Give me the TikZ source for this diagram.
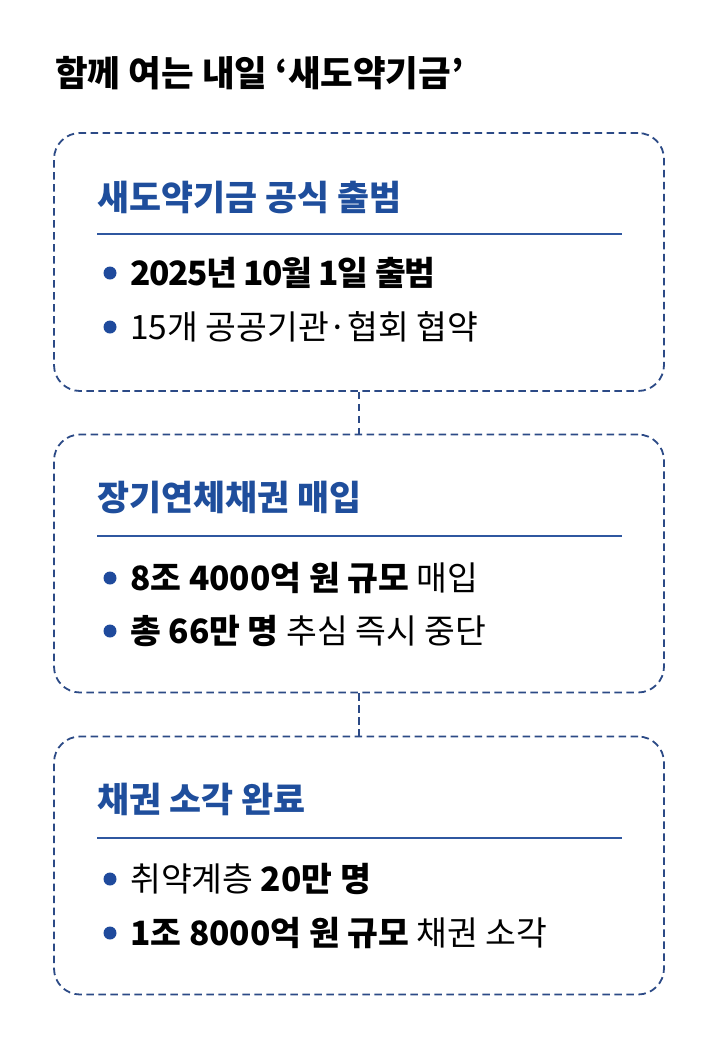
\documentclass[tikz,border=0pt]{standalone}
\usepackage{fontspec}
\setmainfont{Noto Sans CJK KR}
\definecolor{boxline}{HTML}{2C4A86}
\definecolor{titleblue}{HTML}{1F4E9C}
\definecolor{dotblue}{HTML}{1F4A9C}
\definecolor{rulecol}{HTML}{2F57A0}
\tikzset{
  stepbox/.style={draw=boxline, line width=1.8pt, dash pattern=on 7.5pt off 4.5pt,
    rounded corners=26pt, minimum width=610pt, minimum height=258pt, inner sep=0pt},
  conn/.style={draw=boxline, line width=1.8pt, dash pattern=on 7.5pt off 4.5pt},
  boxtitle/.style={anchor=base west, inner sep=0pt, text=titleblue, font=\fontsize{34.8}{40}\selectfont\bfseries},
  bullettext/.style={anchor=base west, inner sep=0pt, text=black, font=\fontsize{33.5}{38}\selectfont},
  dot/.style={circle, fill=dotblue, inner sep=0pt, minimum size=13pt},
  rule/.style={draw=rulecol, line width=1.4pt},
}
\begin{document}
\begin{tikzpicture}[x=1pt,y=-1pt]
\useasboundingbox[fill=white] (0,0) rectangle (720,1047);
\node[anchor=base west, inner sep=0pt, font=\fontsize{35.5}{41}\selectfont\bfseries] (main) at (55,86) {함께 여는 내일 ‘새도약기금’};

% boxes
\node[stepbox] (b1) at (359,262) {};
\node[stepbox] (b2) at (359,563.5) {};
\node[stepbox] (b3) at (359,865.5) {};
\draw[conn] (b1.south) -- (b2.north);
\draw[conn] (b2.south) -- (b3.north);

% box 1
\node[boxtitle] (t1) at (97,210) {새도약기금 공식 출범};
\coordinate (r1a) at (97,234); \coordinate (r1b) at (622,234);
\draw[rule] (r1a) -- (r1b);
\node[dot] (d11) at (110,273) {};
\node[bullettext] (l11) at (130,285.5) {\bfseries\addfontfeature{LetterSpace=-4}2025년 10월 1일 출범};
\node[dot] (d12) at (110,327) {};
\node[bullettext] (l12) at (130,339.5) {15개 공공기관·협회 협약};

% box 2
\node[boxtitle] (t2) at (97,510) {장기연체채권 매입};
\coordinate (r2a) at (97,536); \coordinate (r2b) at (622,536);
\draw[rule] (r2a) -- (r2b);
\node[dot] (d21) at (110,578) {};
\node[bullettext] (l21) at (130,590.5) {\textbf{8조 4000억 원 규모} 매입};
\node[dot] (d22) at (110,631) {};
\node[bullettext] (l22) at (130,643.5) {\textbf{총 66만 명} 추심 즉시 중단};

% box 3
\node[boxtitle] (t3) at (97,812) {채권 소각 완료};
\coordinate (r3a) at (97,838); \coordinate (r3b) at (622,838);
\draw[rule] (r3a) -- (r3b);
\node[dot] (d31) at (110,879) {};
\node[bullettext] (l31) at (130,891.5) {취약계층 \textbf{20만 명}};
\node[dot] (d32) at (110,933) {};
\node[bullettext] (l32) at (130,945.5) {\textbf{1조 8000억 원 규모} 채권 소각};
\end{tikzpicture}
\end{document}
